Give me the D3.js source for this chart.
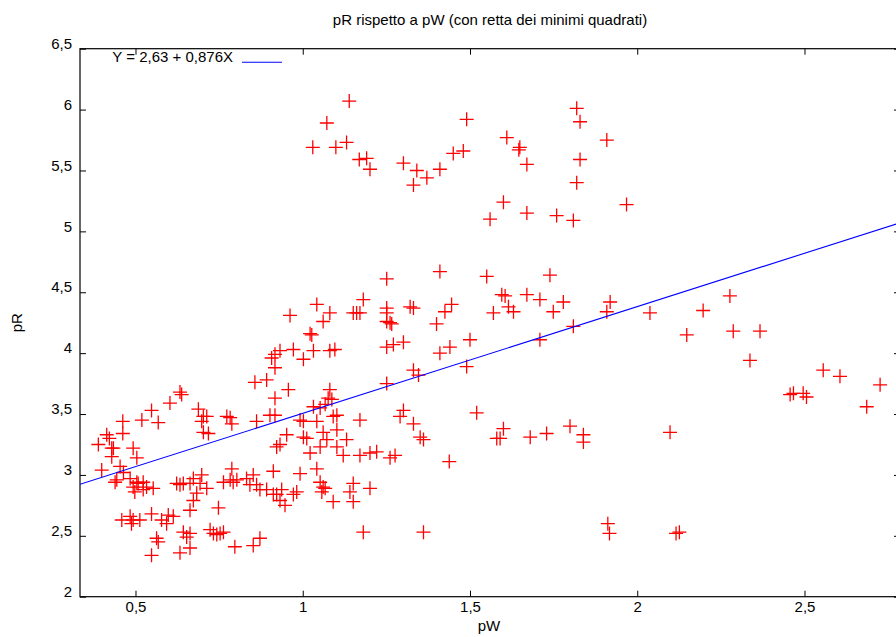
<!DOCTYPE html>
<html>
<head>
<meta charset="utf-8">
<script src="https://cdn.jsdelivr.net/npm/d3@7/dist/d3.min.js"></script>
<style>
  html, body { margin: 0; padding: 0; background: #fff; }
  svg { display: block; }
  text { font-family: "Liberation Sans", Arial, Helvetica, sans-serif; fill: #000; }
</style>
</head>
<body>
<svg id="chart" width="896" height="637"></svg>
<script>
// ---- data ----
const titleText = "pR rispetto a pW (con retta dei minimi quadrati)";
const xLabel = "pW";
const yLabel = "pR";
const xTicks = [0.5, 1, 1.5, 2, 2.5];
const yTicks = [2, 2.5, 3, 3.5, 4, 4.5, 5, 5.5, 6, 6.5];
const fitIntercept = 2.63;
const fitSlope = 0.876;
const fitLabel = "Y = 2,63 + 0,876X";

const pW = [
  1.139,1.072,1.030,1.099,1.131,1.169,1.191,1.201,1.301,1.341,1.331,1.371,1.410,1.450,1.480,1.490,
  1.610,1.649,1.646,1.670,1.819,1.829,1.909,1.829,1.819,1.968,1.600,1.560,1.670,1.759,1.809,
  1.251,1.410,1.550,1.739,
  1.595,1.605,1.670,1.709,1.779,1.615,1.630,1.570,1.749,1.445,1.425,1.919,1.909,2.038,2.197,2.277,
  2.148,2.287,2.367,2.337,1.809,1.709,1.500,1.440,1.410,1.490,2.556,2.606,2.726,2.686,2.457,2.467,
  2.496,2.506,1.520,1.580,1.590,1.600,1.680,1.729,1.799,1.839,1.839,2.098,1.438,1.912,1.917,2.116,2.126,
  1.181,1.042,1.081,1.061,0.962,1.151,1.161,1.171,1.251,1.251,1.251,1.266,1.261,1.321,1.331,1.400,
  1.022,1.027,1.251,1.271,1.301,0.932,0.917,0.972,1.032,1.081,1.096,1.002,0.917,1.331,1.346,1.251,
  0.957,0.917,1.081,1.076,1.087,1.067,1.052,1.032,1.102,1.091,0.917,0.992,1.002,1.042,1.171,1.301,
  1.291,1.331,
  0.633,0.638,0.603,0.548,0.462,0.519,0.568,0.688,0.703,0.713,0.698,0.773,0.783,0.788,0.862,0.857,
  0.892,0.907,0.902,
  0.462,0.422,0.389,0.429,0.434,0.493,0.504,0.429,0.454,0.399,0.464,0.444,0.484,0.504,0.508,0.523,
  0.493,0.533,0.553,0.498,0.523,0.623,0.633,0.643,0.673,0.698,0.693,0.663,0.713,0.683,0.673,0.663,
  0.748,0.763,0.783,0.792,0.803,0.788,0.832,0.852,0.842,0.862,0.872,0.892,0.912,0.922,0.922,0.459,
  0.484,0.493,0.488,0.513,0.548,0.578,0.598,0.593,0.613,0.643,0.653,0.663,0.563,0.568,0.548,0.633,
  0.663,0.723,0.733,0.743,0.753,0.763,0.797,0.852,0.872,
  0.952,0.932,1.002,1.012,1.061,1.072,1.102,1.052,1.022,1.102,1.131,1.121,1.171,1.201,1.221,1.261,
  1.276,1.351,1.361,0.992,1.042,1.052,1.061,1.067,1.057,1.151,1.141,1.151,1.091,1.201,0.937,0.912,
  0.932,0.947,0.972,0.982,1.181,1.361,
  0.414,0.439,0.703,0.718
];
const pR = [
  6.07,5.89,5.69,5.69,5.73,5.59,5.60,5.51,5.56,5.50,5.38,5.44,5.51,5.64,5.66,5.92,
  5.77,5.69,5.67,5.55,6.01,5.90,5.75,5.59,5.40,5.22,5.24,5.10,5.15,5.13,5.09,
  4.61,4.67,4.63,4.64,
  4.48,4.47,4.48,4.44,4.42,4.38,4.34,4.33,4.34,4.40,4.34,4.42,4.34,4.33,4.35,4.47,
  4.15,4.18,4.18,3.94,4.22,4.11,4.11,4.05,4.00,3.89,3.86,3.81,3.74,3.56,3.66,3.67,
  3.67,3.64,3.51,3.30,3.30,3.38,3.31,3.34,3.40,3.33,3.27,3.35,3.11,2.60,2.52,2.52,2.53,
  4.44,4.40,4.33,4.26,4.31,4.33,4.33,4.33,4.37,4.33,4.26,4.24,4.25,4.38,4.37,4.24,
  4.16,4.15,4.05,4.07,4.09,4.02,3.99,4.03,4.02,4.02,4.03,3.95,3.88,3.86,3.82,3.75,
  3.70,3.63,3.70,3.63,3.62,3.58,3.55,3.56,3.49,3.48,3.49,3.45,3.44,3.44,3.45,3.53,
  3.48,3.42,
  3.68,3.66,3.59,3.53,3.44,3.45,3.43,3.54,3.48,3.48,3.44,3.48,3.47,3.42,3.44,3.76,
  3.78,3.96,3.49,
  3.34,3.30,3.25,3.22,3.22,3.22,3.14,3.15,3.07,3.04,3.02,2.96,2.97,2.94,2.93,2.94,
  2.90,2.90,2.89,2.86,2.88,2.93,2.92,2.93,2.97,3.00,2.93,2.93,2.89,2.85,2.79,2.71,
  2.73,2.94,2.96,2.94,2.96,3.05,2.97,3.00,2.92,2.92,2.88,2.88,3.03,2.84,3.23,2.63,
  2.66,2.63,2.60,2.63,2.68,2.63,2.67,2.60,2.66,2.53,2.49,2.52,2.48,2.45,2.34,2.36,
  2.40,2.55,2.52,2.51,2.52,2.53,2.41,2.42,2.48,
  3.33,3.25,3.31,3.30,3.35,3.29,3.37,3.23,3.18,3.23,3.29,3.16,3.16,3.18,3.19,3.14,
  3.16,3.31,3.29,3.01,3.05,2.94,2.90,2.89,2.86,2.93,2.86,2.78,2.78,2.89,2.88,2.84,
  2.79,2.75,2.84,2.86,2.53,2.53,
  3.33,2.94,3.35,3.34
];

// ---- layout ----
const svg = d3.select("#chart");
const mLeft = 80, mRight = 900, mTop = 48.7, mBottom = 596.7;
const fmt = d => String(d).replace(".", ",");

const x = d3.scaleLinear().domain([0.3341, 2.7855]).range([mLeft, mRight]);
const y = d3.scaleLinear().domain([2, 6.5]).range([mBottom, mTop]);

const fontSize = 15;

// axes (inward ticks)
const gx = svg.append("g").attr("transform", `translate(0,${mBottom})`)
  .call(d3.axisBottom(x).tickValues(xTicks).tickFormat(fmt).tickSize(-6).tickSizeOuter(0).tickPadding(4.6));
const gxt = svg.append("g").attr("transform", `translate(0,${mTop})`)
  .call(d3.axisTop(x).tickValues(xTicks).tickFormat("").tickSize(-6).tickSizeOuter(0));
const gy = svg.append("g").attr("transform", `translate(${mLeft},0)`)
  .call(d3.axisLeft(y).tickValues(yTicks).tickFormat(fmt).tickSize(-6).tickSizeOuter(0).tickPadding(8));
const gyr = svg.append("g").attr("transform", `translate(${mRight},0)`)
  .call(d3.axisRight(y).tickValues(yTicks).tickFormat("").tickSize(-6).tickSizeOuter(0));

[gx, gxt, gy, gyr].forEach(g => {
  g.select(".domain").remove();
  g.selectAll(".tick line").attr("stroke", "#000").attr("stroke-width", 1);
  g.selectAll("text").attr("font-size", fontSize).attr("font-family", null).attr("fill", "#000");
});
gy.selectAll(".tick text").attr("dy", "-0.02em");

// border
svg.append("rect")
  .attr("x", mLeft).attr("y", mTop)
  .attr("width", mRight - mLeft).attr("height", mBottom - mTop)
  .attr("fill", "none").attr("stroke", "#000").attr("stroke-width", 1.2);

// clip
svg.append("clipPath").attr("id", "plotclip").append("rect")
  .attr("x", mLeft).attr("y", mTop).attr("width", mRight - mLeft).attr("height", mBottom - mTop);

// points
const pts = pW.map((v, i) => ({ w: v, r: pR[i] }));
svg.append("g").attr("clip-path", "url(#plotclip)")
  .selectAll("path").data(pts).join("path")
  .attr("transform", d => `translate(${x(d.w)},${y(d.r)})`)
  .attr("d", "M-7,0H7M0,-7V7")
  .attr("stroke", "#ff0000").attr("stroke-width", 1.3).attr("fill", "none");

// least squares line
const xd = x.domain();
svg.append("path").attr("clip-path", "url(#plotclip)")
  .datum(xd.map(v => ({ w: v, r: fitIntercept + fitSlope * v })))
  .attr("d", d3.line().x(d => x(d.w)).y(d => y(d.r)))
  .attr("stroke", "#0000ff").attr("stroke-width", 1.1).attr("fill", "none");

// legend
svg.append("text").attr("x", 233).attr("y", 62)
  .attr("text-anchor", "end").attr("font-size", fontSize).text(fitLabel);
svg.append("line").attr("x1", 242).attr("x2", 282).attr("y1", 62.3).attr("y2", 62.3)
  .attr("stroke", "#0000ff").attr("stroke-width", 1.1);

// title and labels
svg.append("text").attr("x", 490).attr("y", 25)
  .attr("text-anchor", "middle").attr("font-size", fontSize).text(titleText);
svg.append("text").attr("x", 489).attr("y", 631)
  .attr("text-anchor", "middle").attr("font-size", fontSize).text(xLabel);
svg.append("text").attr("transform", "translate(21.5,322.7) rotate(-90)")
  .attr("text-anchor", "middle").attr("font-size", fontSize).text(yLabel);
</script>
</body>
</html>
